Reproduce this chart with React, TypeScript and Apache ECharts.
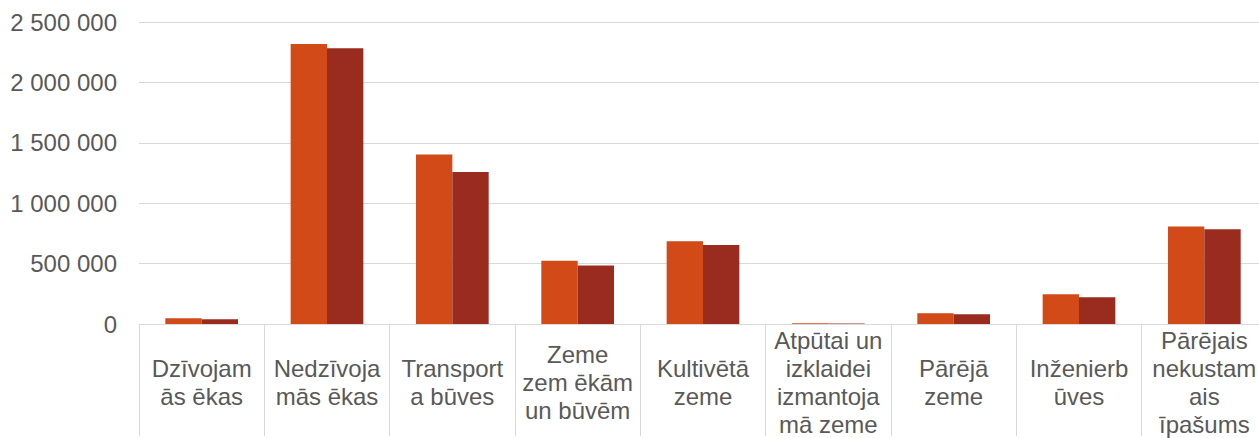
import React, { useEffect, useRef } from "react";
import * as echarts from "echarts";

const categories = [
  "Dzīvojam\nās ēkas",
  "Nedzīvoja\nmās ēkas",
  "Transport\na būves",
  "Zeme\nzem ēkām\nun būvēm",
  "Kultivētā\nzeme",
  "Atpūtai un\nizklaidei\nizmantoja\nmā zeme",
  "Pārējā\nzeme",
  "Inženierb\nūves",
  "Pārējais\nnekustam\nais\nīpašums",
];

const series1 = [48000, 2318000, 1404000, 524000, 685000, 6000, 88000, 247000, 808000];
const series2 = [40000, 2283000, 1258000, 485000, 655000, 5000, 80000, 222000, 784000];

const yTicks = { min: 0, max: 2500000, interval: 500000 };

const fmt = (v: number) => String(v).replace(/\B(?=(\d{3})+(?!\d))/g, " ");

export default function App() {
  const ref = useRef<HTMLDivElement>(null);
  useEffect(() => {
    document.body.style.margin = "0";
    const chart = echarts.init(ref.current!, null, { renderer: "svg" });
    chart.setOption({
      animation: false,
      textStyle: { fontFamily: "Liberation Sans, Arial, sans-serif" },
      grid: { left: 139, right: 0, top: 22, bottom: 112 },
      xAxis: {
        type: "category",
        data: categories,
        axisLine: { lineStyle: { color: "#d9d9d9", width: 1 } },
        axisTick: { show: true, length: 112, lineStyle: { color: "#d9d9d9", width: 1 } },
        axisLabel: {
          interval: 0,
          color: "#595959",
          fontSize: 24,
          lineHeight: 28,
          margin: 58,
          verticalAlign: "middle",
          align: "center",
        },
      },
      yAxis: {
        type: "value",
        min: yTicks.min,
        max: yTicks.max,
        interval: yTicks.interval,
        axisLine: { show: false },
        axisTick: { show: false },
        splitLine: { lineStyle: { color: "#d9d9d9", width: 1 } },
        axisLabel: {
          color: "#595959",
          fontSize: 24,
          margin: 22,
          formatter: (v: number) => fmt(v),
        },
      },
      series: [
        {
          name: "Series 1",
          type: "bar",
          data: series1,
          itemStyle: { color: "#D24A18" },
          barGap: "0%",
          barCategoryGap: "42%",
        },
        {
          name: "Series 2",
          type: "bar",
          data: series2,
          itemStyle: { color: "#992C1F" },
          barGap: "0%",
          barCategoryGap: "42%",
        },
      ],
    });
    return () => chart.dispose();
  }, []);
  return (
    <div style={{ width: 1259, height: 438, overflow: "hidden" }}>
      <div ref={ref} style={{ width: 1267, height: 438 }} />
    </div>
  );
}
